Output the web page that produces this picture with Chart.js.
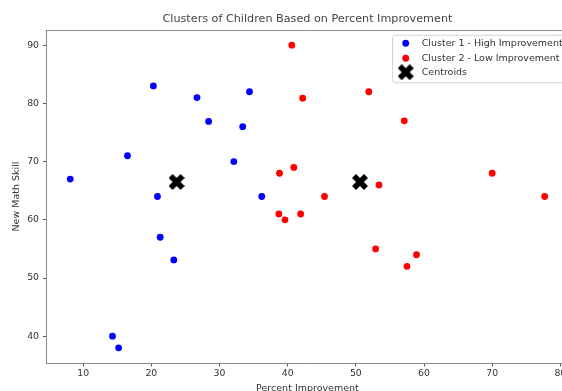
<!DOCTYPE html>
<html>
<head>
<meta charset="utf-8">
<script src="https://cdn.jsdelivr.net/npm/chart.js@4/dist/chart.umd.min.js"></script>
<style>
  html, body { margin: 0; padding: 0; overflow: hidden; background: #fff; width: 562px; height: 391px; }
  canvas { display: block; }
</style>
</head>
<body>
<canvas id="c" width="580" height="398"></canvas>
<script>
// ---- data ----
const cluster1Label = 'Cluster 1 - High Improvement';
const cluster1X = [8.1, 20.3, 26.7, 16.5, 20.9, 21.3, 23.3, 14.3, 15.2, 34.4, 28.4, 33.4, 32.1, 36.2];
const cluster1Y = [67, 83, 81, 71, 64, 57, 53.1, 40, 38, 82, 76.9, 76, 70, 64];

const cluster2Label = 'Cluster 2 - Low Improvement';
const cluster2X = [40.6, 42.2, 51.9, 40.9, 38.8, 45.4, 53.4, 38.7, 39.6, 41.9, 52.9, 57.1, 70.0, 77.7, 57.5, 58.9];
const cluster2Y = [90, 80.9, 82, 69, 68, 64, 66, 61, 60, 61, 55, 77, 68, 64, 52, 54];

const centroidLabel = 'Centroids';
const centroidX = [23.7, 50.6];
const centroidY = [66.5, 66.5];

const xTicks = [10, 20, 30, 40, 50, 60, 70, 80];
const yTicks = [40, 50, 60, 70, 80, 90];

const titleText = 'Clusters of Children Based on Percent Improvement';
const xTitle = 'Percent Improvement';
const yTitle = 'New Math Skill';

// ---- helpers ----
const toPoints = (xs, ys) => xs.map((x, i) => ({ x: x, y: ys[i] }));
const FONT = 'DejaVu Sans';

// filled "X" marker (matplotlib style)
function makeXMarker(size) {
  const c = document.createElement('canvas');
  c.width = size; c.height = size;
  const g = c.getContext('2d');
  const a = size / 2 / 0.943; // half arm length
  const b = a / 3;             // half arm width
  g.translate(size / 2, size / 2);
  g.rotate(Math.PI / 4);
  g.fillStyle = '#000';
  g.beginPath();
  const pts = [[-b,-a],[b,-a],[b,-b],[a,-b],[a,b],[b,b],[b,a],[-b,a],[-b,b],[-a,b],[-a,-b],[-b,-b]];
  pts.forEach((p, i) => i ? g.lineTo(p[0], p[1]) : g.moveTo(p[0], p[1]));
  g.closePath();
  g.fill();
  return c;
}
const xMarker = makeXMarker(16);

// frame (top spine) plugin
const framePlugin = {
  id: 'frame',
  afterDraw(chart) {
    const { ctx, chartArea: a } = chart;
    ctx.save();
    ctx.strokeStyle = '#8a8a8a';
    ctx.lineWidth = 1;
    ctx.beginPath();
    ctx.moveTo(a.left, a.top + 0.5);
    ctx.lineTo(a.right, a.top + 0.5);
    ctx.moveTo(a.right - 0.5, a.top);
    ctx.lineTo(a.right - 0.5, a.bottom);
    ctx.stroke();
    ctx.restore();
  }
};

// legend drawn inside the plot (upper right)
const insideLegend = {
  id: 'insideLegend',
  afterDatasetsDraw(chart) {
    const { ctx, chartArea: a } = chart;
    const pad = 4.7;
    const right = a.right - pad;
    const top = a.top + pad;
    const left = 392;
    const h = 47.5;
    ctx.save();
    ctx.fillStyle = 'rgba(255,255,255,0.85)';
    ctx.strokeStyle = '#d4d4d4';
    ctx.lineWidth = 1;
    ctx.beginPath();
    ctx.roundRect(left + 0.5, top + 0.5, right - left, h, 2.5);
    ctx.fill();
    ctx.stroke();
    const rows = [top + 8.5, top + 23.5, top + 37.5];
    ctx.font = '9.5px "' + FONT + '"';
    ctx.textBaseline = 'middle';
    ctx.textAlign = 'left';
    chart.data.datasets.forEach((ds, i) => {
      const y = rows[i];
      const mx = 405.7;
      if (ds.pointStyle instanceof HTMLCanvasElement) {
        ctx.drawImage(ds.pointStyle, mx - ds.pointStyle.width / 2, y - ds.pointStyle.height / 2);
      } else {
        ctx.fillStyle = ds.backgroundColor;
        ctx.beginPath();
        ctx.arc(mx, y, ds.pointRadius, 0, Math.PI * 2);
        ctx.fill();
      }
      ctx.fillStyle = '#333';
      ctx.fillText(ds.label, 421.7, y + 0.5);
    });
    ctx.restore();
  }
};

new Chart(document.getElementById('c'), {
  type: 'scatter',
  data: {
    datasets: [
      { label: cluster1Label, data: toPoints(cluster1X, cluster1Y), backgroundColor: '#0000ff', borderWidth: 0, pointRadius: 3.4, pointHoverRadius: 3.4 },
      { label: cluster2Label, data: toPoints(cluster2X, cluster2Y), backgroundColor: '#ff0000', borderWidth: 0, pointRadius: 3.4, pointHoverRadius: 3.4 },
      { label: centroidLabel, data: toPoints(centroidX, centroidY), backgroundColor: '#000', borderWidth: 0, pointStyle: xMarker, pointRadius: 8, pointHoverRadius: 8 }
    ]
  },
  options: {
    responsive: false,
    animation: false,
    events: [],
    layout: { padding: { left: 0, right: 11.6, top: 0, bottom: 0 } },
    plugins: {
      legend: { display: false },
      tooltip: { enabled: false },
      title: {
        display: true,
        text: titleText,
        fullSize: false,
        color: '#444',
        font: { family: FONT, size: 11.2, weight: 'normal' },
        padding: { top: 12.3, bottom: 4.3 }
      }
    },
    scales: {
      x: {
        type: 'linear',
        min: 4.62,
        max: 81.18,
        afterBuildTicks: (s) => { s.ticks = xTicks.map(v => ({ value: v })); },
        afterFit: (s) => { s.height = 35; },
        grid: { drawOnChartArea: false, drawTicks: true, tickLength: 3.5, color: '#555', tickWidth: 1 },
        border: { display: true, color: '#8a8a8a', width: 1 },
        ticks: { color: '#333', font: { family: FONT, size: 9.3 }, padding: 1.5, maxRotation: 0, autoSkip: false },
        title: { display: true, text: xTitle, color: '#333', font: { family: FONT, size: 9.5 }, padding: { top: 0, bottom: 3.5 } }
      },
      y: {
        type: 'linear',
        min: 35.4,
        max: 92.6,
        afterBuildTicks: (s) => { s.ticks = yTicks.map(v => ({ value: v })); },
        afterFit: (s) => { s.width = 46.5; },
        grid: { drawOnChartArea: false, drawTicks: true, tickLength: 3.5, color: '#555', tickWidth: 1 },
        border: { display: true, color: '#8a8a8a', width: 1 },
        ticks: { color: '#333', font: { family: FONT, size: 9.3 }, padding: 4, autoSkip: false },
        title: { display: true, text: yTitle, color: '#333', font: { family: FONT, size: 9.5 }, padding: { top: 11, bottom: 0 } }
      }
    }
  },
  plugins: [framePlugin, insideLegend]
});
</script>
</body>
</html>
